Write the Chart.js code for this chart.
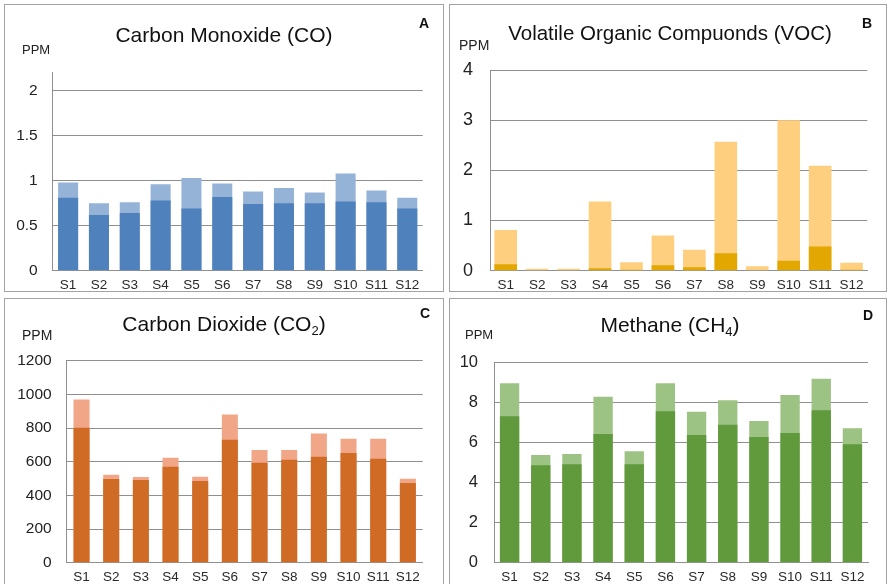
<!DOCTYPE html>
<html>
<head>
<meta charset="utf-8">
<script src="https://cdn.jsdelivr.net/npm/chart.js@4.4.1/dist/chart.umd.min.js"></script>
<style>
  body { margin: 0; width: 888px; height: 584px; overflow: hidden; background: #fff; font-family: "Liberation Sans", Arial, sans-serif; }
  .panel { position: absolute; border: 1px solid #a3a3a3; box-sizing: border-box; overflow: hidden; background: #fff; }
  .panel canvas { position: absolute; left: 0; top: 0; }
  .title { position: absolute; white-space: nowrap; color: #111; transform: translate(-50%, -50%); }
  .title sub { font-size: 0.62em; vertical-align: -0.25em; }
  .ppm { position: absolute; color: #222; white-space: nowrap; transform: translateY(-50%); }
  .tag { position: absolute; font-weight: bold; color: #111; font-size: 14px; transform: translate(-50%, -50%); }
</style>
</head>
<body>

<div class="panel" id="pA" style="left:4px;top:4px;width:440px;height:288px">
  <canvas id="cA" width="438" height="286"></canvas>
  <div class="title" style="left:219px;top:30px;font-size:21px">Carbon Monoxide (CO)</div>
  <div class="ppm" style="left:17px;top:44px;font-size:13px">PPM</div>
  <div class="tag" style="left:419px;top:18px">A</div>
</div>

<div class="panel" id="pB" style="left:449px;top:4px;width:438px;height:288px">
  <canvas id="cB" width="436" height="286"></canvas>
  <div class="title" style="left:220px;top:28px;font-size:20.5px">Volatile Organic Compuonds (VOC)</div>
  <div class="ppm" style="left:9px;top:40px;font-size:14px">PPM</div>
  <div class="tag" style="left:417px;top:18px">B</div>
</div>

<div class="panel" id="pC" style="left:4px;top:298px;width:440px;height:292px">
  <canvas id="cC" width="438" height="290"></canvas>
  <div class="title" style="left:219px;top:26px;font-size:21px">Carbon Dioxide (CO<sub>2</sub>)</div>
  <div class="ppm" style="left:17px;top:36px;font-size:14px">PPM</div>
  <div class="tag" style="left:420px;top:14px">C</div>
</div>

<div class="panel" id="pD" style="left:449px;top:298px;width:438px;height:292px">
  <canvas id="cD" width="436" height="290"></canvas>
  <div class="title" style="left:220px;top:27px;font-size:21px">Methane (CH<sub>4</sub>)</div>
  <div class="ppm" style="left:15px;top:35px;font-size:13px">PPM</div>
  <div class="tag" style="left:418px;top:16px">D</div>
</div>

<script>
// sites
const sites = ['S1', 'S2', 'S3', 'S4', 'S5', 'S6', 'S7', 'S8', 'S9', 'S10', 'S11', 'S12'];

// carbon monoxide (ppm)
const coLow  = [0.81, 0.62, 0.64, 0.78, 0.69, 0.82, 0.74, 0.75, 0.75, 0.77, 0.76, 0.69];
const coHigh = [0.98, 0.75, 0.76, 0.96, 1.03, 0.97, 0.88, 0.92, 0.87, 1.08, 0.89, 0.81];

// volatile organic compounds (ppm)
const vocLow  = [0.13, 0.01, 0.01, 0.05, 0.02, 0.11, 0.07, 0.35, 0.01, 0.20, 0.48, 0.02];
const vocHigh = [0.81, 0.04, 0.04, 1.38, 0.17, 0.70, 0.42, 2.57, 0.09, 3.00, 2.09, 0.16];

// carbon dioxide (ppm)
const co2Low  = [802, 497, 491, 570, 485, 731, 594, 612, 630, 651, 618, 473];
const co2High = [970, 523, 509, 624, 511, 881, 669, 669, 768, 737, 737, 499];

// methane (ppm)
const ch4Low  = [7.32, 4.87, 4.92, 6.43, 4.92, 7.57, 6.38, 6.90, 6.28, 6.48, 7.62, 5.92];
const ch4High = [8.97, 5.38, 5.43, 8.30, 5.57, 8.97, 7.55, 8.12, 7.08, 8.38, 9.20, 6.72];

const FONT = '"Liberation Sans", Arial, sans-serif';
const GRID = '#8f8f8f';

// area = plot rectangle inside the canvas
function drawPanel(id, area, low, high, dark, light, yMax, yShow, step, barPct, yFont, yPad) {
    const cv = document.getElementById(id);
    const W = cv.width, H = cv.height;
    new Chart(cv, {
        type: 'bar',
        data: {
            labels: sites,
            datasets: [
                // first dataset is drawn on top
                {data: low, backgroundColor: dark, barPercentage: barPct, categoryPercentage: 1},
                {data: high, backgroundColor: light, barPercentage: barPct, categoryPercentage: 1}
            ]
        },
        options: {
            responsive: false,
            animation: false,
            devicePixelRatio: 1,
            layout: {padding: {left: 0, top: area.top, right: W - area.right, bottom: 0}},
            plugins: {legend: {display: false}, tooltip: {enabled: false}},
            scales: {
                x: {
                    stacked: true,
                    grid: {display: false, drawTicks: false},
                    border: {display: true, color: GRID, width: 1},
                    ticks: {color: '#2a2a2a', font: {family: FONT, size: 13.5}, padding: 6, maxRotation: 0, autoSkip: false},
                    afterFit: s => { s.height = H - area.bottom; }
                },
                y: {
                    stacked: false,
                    min: 0,
                    max: yMax,
                    grid: {color: GRID, lineWidth: 1, drawTicks: false},
                    border: {display: true, color: GRID, width: 1},
                    ticks: {
                        stepSize: step, color: '#222', font: {family: FONT, size: yFont}, padding: yPad,
                        callback: v => String(Math.round(v * 100) / 100)
                    },
                    afterBuildTicks: s => { s.ticks = s.ticks.filter(t => t.value <= yShow + 1e-9); },
                    // fixed width, and no extra room for the half labels at the ends
                    afterFit: s => { s.width = area.left; s.paddingTop = 0; s.paddingBottom = 0; }
                }
            }
        }
    });
}

drawPanel('cA', {left: 47.7, right: 417.7, top: 67.7, bottom: 265.7},
    coLow, coHigh, '#4f81bd', '#95b3d7', 2.2, 2, 0.5, 0.65, 15.5, 15);
drawPanel('cB', {left: 40, right: 417.3, top: 65, bottom: 265.7},
    vocLow, vocHigh, '#e2a700', '#ffcf80', 4, 4, 1, 0.72, 18, 17);
drawPanel('cC', {left: 61.7, right: 417.7, top: 61.7, bottom: 263.7},
    co2Low, co2High, '#d06b26', '#f2a688', 1200, 1200, 200, 0.54, 15.5, 15);
drawPanel('cD', {left: 44, right: 418, top: 63.7, bottom: 263.7},
    ch4Low, ch4High, '#609a3c', '#9dc384', 10, 10, 2, 0.62, 16.5, 16);
</script>
</body>
</html>
